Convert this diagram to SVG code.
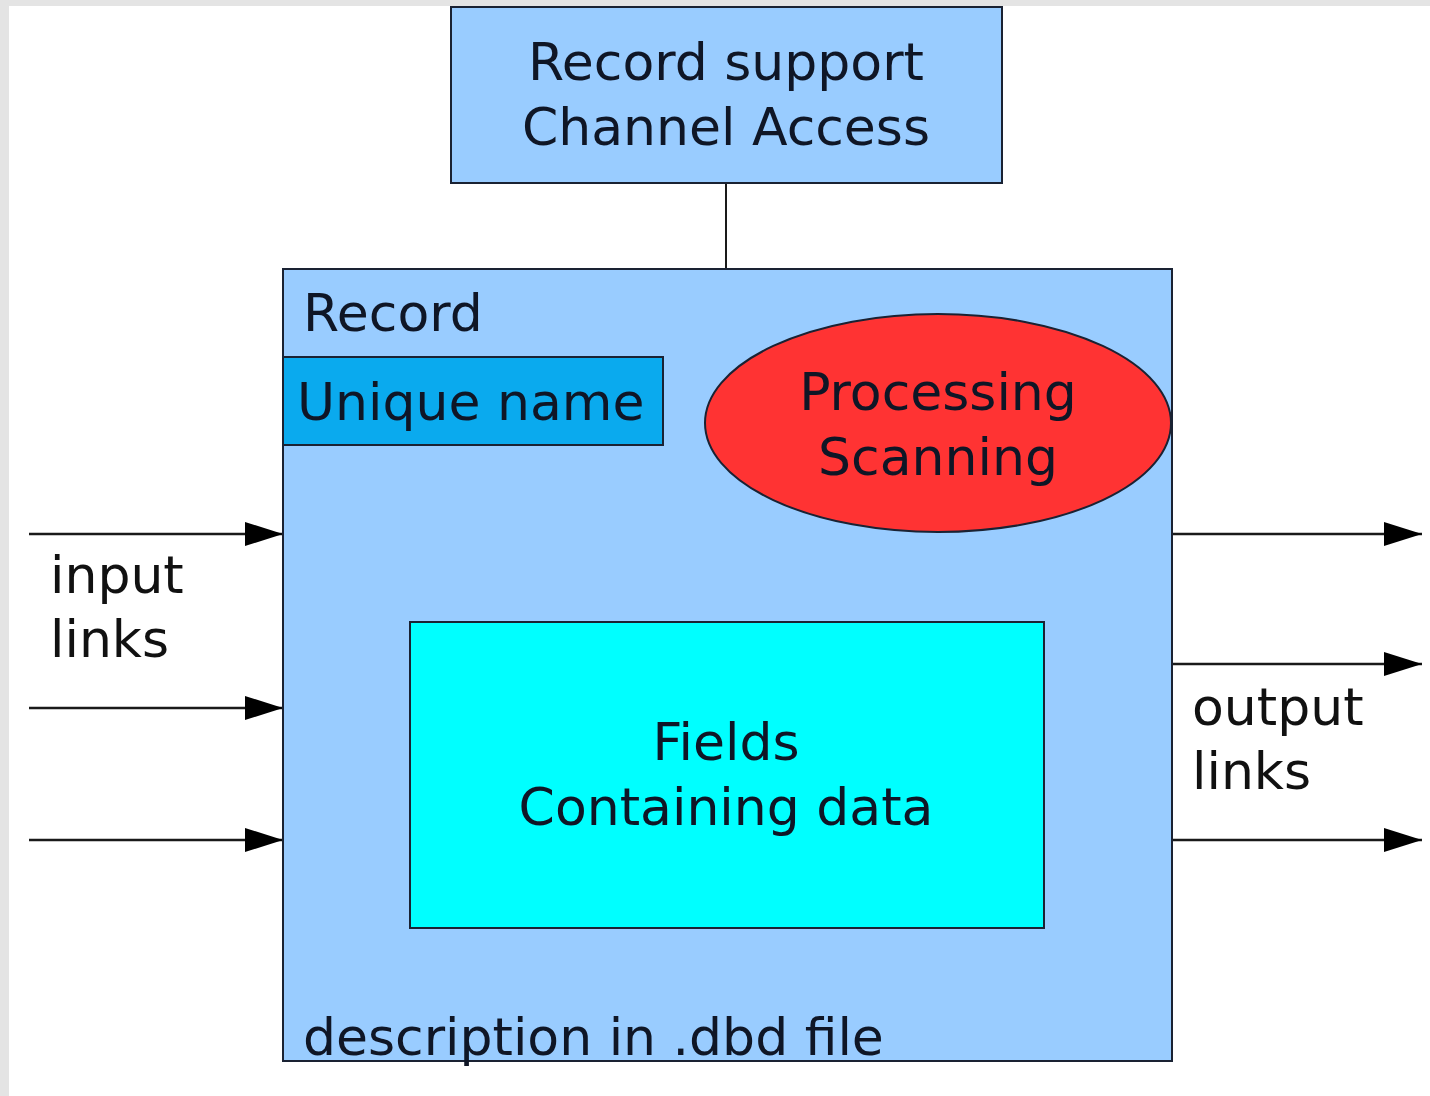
<svg xmlns="http://www.w3.org/2000/svg" width="1430" height="1096" viewBox="0 0 1430 1096">
  <defs>
    <style>
      .box { stroke: #1a2233; stroke-width: 2; }
      .lbl { font-family: "DejaVu Sans", "Liberation Sans", sans-serif; font-size: 52px; fill: #0f1626; }
      .mid { text-anchor: middle; }
      .link { stroke: #1a1a1a; stroke-width: 2.5; fill: none; marker-end: url(#arrow); }
    </style>
    <marker id="arrow" markerUnits="userSpaceOnUse" markerWidth="40" markerHeight="28" refX="38" refY="12" orient="auto">
      <path d="M0,0 L38,12 L0,24 Z" fill="#000"/>
    </marker>
  </defs>

  <!-- page background with thin frame at top and left -->
  <rect x="0" y="0" width="1430" height="1096" fill="#e4e4e4"/>
  <rect x="9" y="6" width="1421" height="1090" fill="#ffffff"/>

  <!-- connectors -->
  <g id="connectors">
    <line x1="726" y1="183" x2="726" y2="269" stroke="#1a1a1a" stroke-width="2"/>
    <line class="link" x1="29" y1="534" x2="283" y2="534"/>
    <line class="link" x1="29" y1="708" x2="283" y2="708"/>
    <line class="link" x1="29" y1="840" x2="283" y2="840"/>
    <line class="link" x1="1172" y1="534" x2="1422" y2="534"/>
    <line class="link" x1="1172" y1="664" x2="1422" y2="664"/>
    <line class="link" x1="1172" y1="840" x2="1422" y2="840"/>
  </g>

  <g id="record-support">
    <rect class="box" x="451" y="7" width="551" height="176" fill="#99ccff"/>
    <text class="lbl mid" x="726" y="80">Record support</text>
    <text class="lbl mid" x="726" y="145">Channel Access</text>
  </g>

  <g id="record">
    <rect class="box" x="283" y="269" width="889" height="792" fill="#99ccff"/>
    <text class="lbl" x="303" y="331">Record</text>
  </g>

  <g id="unique-name">
    <rect class="box" x="283" y="357" width="380" height="88" fill="#0aaaee"/>
    <text class="lbl" x="297" y="420">Unique name</text>
  </g>

  <g id="processing">
    <ellipse class="box" cx="938" cy="423" rx="233" ry="109" fill="#ff3333"/>
    <text class="lbl mid" x="938" y="410">Processing</text>
    <text class="lbl mid" x="938" y="475">Scanning</text>
  </g>

  <g id="fields">
    <rect class="box" x="410" y="622" width="634" height="306" fill="#00ffff"/>
    <text class="lbl mid" x="726" y="760">Fields</text>
    <text class="lbl mid" x="726" y="825">Containing data</text>
  </g>

  <g id="description">
    <text class="lbl" x="303" y="1055">description in .dbd file</text>
  </g>

  <g id="input-label">
    <text class="lbl" x="50" y="593" style="fill:#111">input</text>
    <text class="lbl" x="50" y="657" style="fill:#111">links</text>
  </g>

  <g id="output-label">
    <text class="lbl" x="1192" y="725" style="fill:#111">output</text>
    <text class="lbl" x="1192" y="789" style="fill:#111">links</text>
  </g>
</svg>
